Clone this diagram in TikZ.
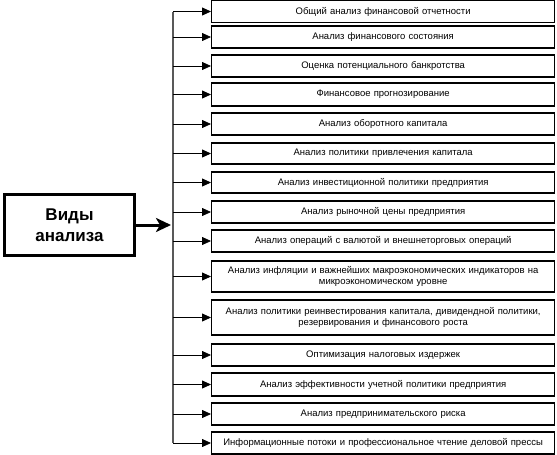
\documentclass[tikz,border=0pt]{standalone}
\usepackage{fontspec}
\setmainfont{Liberation Sans}
\usetikzlibrary{arrows.meta}
\begin{document}
\begin{tikzpicture}[x=1pt,y=-1pt,
  item/.style={draw=black, line width=1.3pt, anchor=west, minimum width=343pt,
    inner sep=1pt, align=center, text width=336pt,
    font=\fontsize{9.5}{11}\selectfont},
  feed/.style={-{Triangle[length=9pt,width=8pt]}, line width=0.8pt, black},
  spineline/.style={line width=1.2pt, black!65},
  mainbox/.style={draw, line width=3pt, minimum width=130pt, minimum height=61pt,
    align=center, font=\bfseries\fontsize{17}{21}\selectfont},
  mainarrow/.style={-{Stealth[length=15pt,width=14pt,inset=4pt]}, line width=3pt}]
\useasboundingbox (0,0) rectangle (557,455);
\node[mainbox] (main) at (69.5,225) {Виды\\анализа};
\coordinate (spine) at (173,0);
\coordinate (hub) at (171,225);
\node[item, minimum height=22pt] (b1) at (211,11.5) {Общий анализ финансовой отчетности};
\node[item, minimum height=22pt] (b2) at (211,37) {Анализ финансового состояния};
\node[item, minimum height=22pt] (b3) at (211,66) {Оценка потенциального банкротства};
\node[item, minimum height=23pt] (b4) at (211,94.5) {Финансовое прогнозирование};
\node[item, minimum height=22pt] (b5) at (211,124) {Анализ оборотного капитала};
\node[item, minimum height=21pt] (b6) at (211,153.5) {Анализ политики привлечения капитала};
\node[item, minimum height=21pt] (b7) at (211,182.5) {Анализ инвестиционной политики предприятия};
\node[item, minimum height=22pt] (b8) at (211,212) {Анализ рыночной цены предприятия};
\node[item, minimum height=22pt] (b9) at (211,241) {Анализ операций с валютой и внешнеторговых операций};
\node[item, minimum height=31pt] (b10) at (211,276.5) {Анализ инфляции и важнейших макроэкономических индикаторов на\\микроэкономическом уровне};
\node[item, minimum height=35pt] (b11) at (211,317.5) {Анализ политики реинвестирования капитала, дивидендной политики,\\резервирования и финансового роста};
\node[item, minimum height=22pt] (b12) at (211,355) {Оптимизация налоговых издержек};
\node[item, minimum height=23pt] (b13) at (211,384.5) {Анализ эффективности учетной политики предприятия};
\node[item, minimum height=22pt] (b14) at (211,414) {Анализ предпринимательского риска};
\node[item, minimum height=22pt] (b15) at (211,443) {Информационные потоки и профессиональное чтение деловой прессы};
\draw[spineline] (spine |- b1.west) -- (spine |- b15.west);
\draw[mainarrow] (main.east) -- (hub);
\foreach \i in {1,...,15} {
  \draw[feed] (spine |- b\i.west) -- (b\i.west);
}
\end{tikzpicture}
\end{document}
